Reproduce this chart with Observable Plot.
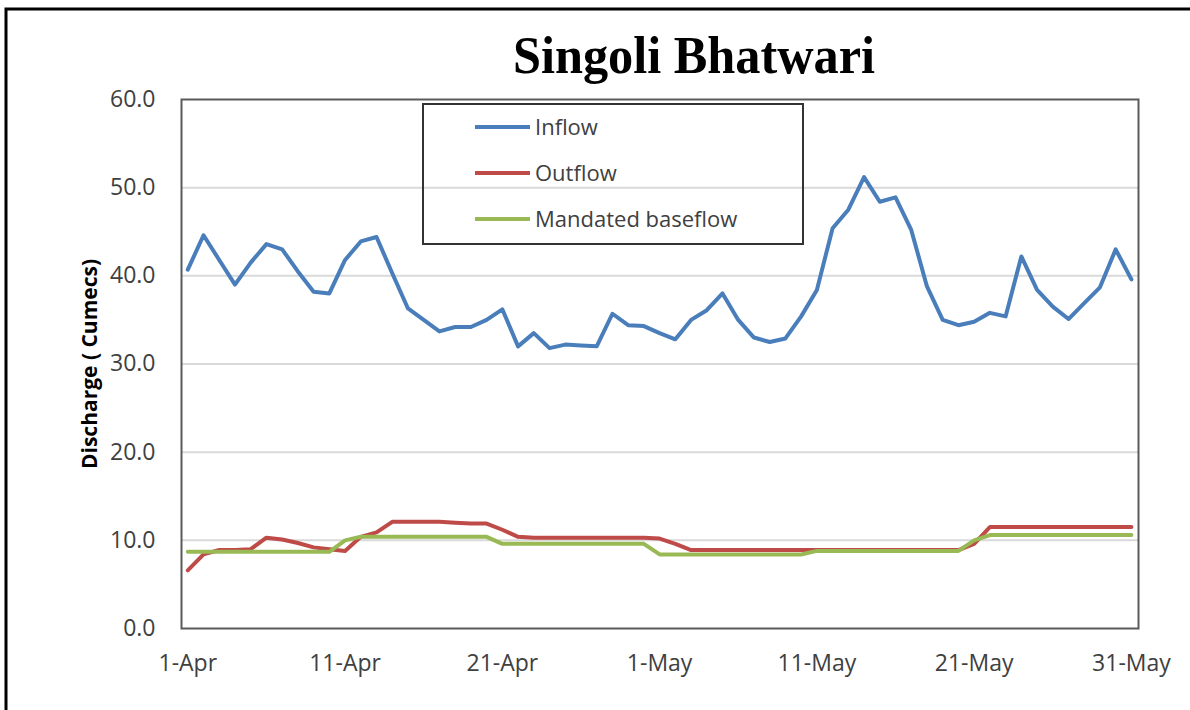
<!DOCTYPE html>
<html><head><meta charset="utf-8">
<script src="https://cdn.jsdelivr.net/npm/d3@7"></script>
<script src="https://cdn.jsdelivr.net/npm/@observablehq/plot@0.6"></script>
<style>
html,body{margin:0;padding:0;overflow:hidden;background:#fff;}
#chart{position:relative;width:1190px;height:710px;}
</style></head><body><div id="chart"></div>
<script>
const title = "Singoli Bhatwari";
const yLabel = "Discharge ( Cumecs)";
const seriesNames = ["Inflow", "Outflow", "Mandated baseflow"];
const seriesColors = ["#4A7EBB", "#BE4B48", "#98B954"];
const startDate = "2014-04-01";
const endDate = "2014-05-31";
const inflow = [40.7, 44.6, 41.8, 39.0, 41.5, 43.6, 43.0, 40.5, 38.2, 38.0,
  41.8, 43.9, 44.4, 40.3, 36.3, 35.0, 33.7, 34.2, 34.2, 35.0,
  36.2, 32.0, 33.5, 31.8, 32.2, 32.1, 32.0, 35.7, 34.4, 34.3,
  33.5, 32.8, 35.0, 36.1, 38.0, 35.0, 33.0, 32.5, 32.9, 35.4,
  38.4, 45.4, 47.5, 51.2, 48.4, 48.9, 45.2, 38.8, 35.0, 34.4,
  34.8, 35.8, 35.4, 42.2, 38.4, 36.5, 35.1, 36.9, 38.7, 43.0, 39.6];
const outflow = [6.6, 8.4, 8.9, 8.9, 9.0, 10.3, 10.1, 9.7, 9.2, 9.0,
  8.8, 10.4, 10.9, 12.1, 12.1, 12.1, 12.1, 12.0, 11.9, 11.9,
  11.2, 10.4, 10.3, 10.3, 10.3, 10.3, 10.3, 10.3, 10.3, 10.3,
  10.2, 9.6, 8.9, 8.9, 8.9, 8.9, 8.9, 8.9, 8.9, 8.9,
  8.9, 8.9, 8.9, 8.9, 8.9, 8.9, 8.9, 8.9, 8.9, 8.9,
  9.6, 11.5, 11.5, 11.5, 11.5, 11.5, 11.5, 11.5, 11.5, 11.5, 11.5];
const baseflow = [8.7, 8.7, 8.7, 8.7, 8.7, 8.7, 8.7, 8.7, 8.7, 8.7,
  10.0, 10.4, 10.4, 10.4, 10.4, 10.4, 10.4, 10.4, 10.4, 10.4,
  9.6, 9.6, 9.6, 9.6, 9.6, 9.6, 9.6, 9.6, 9.6, 9.6,
  8.4, 8.4, 8.4, 8.4, 8.4, 8.4, 8.4, 8.4, 8.4, 8.4,
  8.8, 8.8, 8.8, 8.8, 8.8, 8.8, 8.8, 8.8, 8.8, 8.8,
  10.0, 10.6, 10.6, 10.6, 10.6, 10.6, 10.6, 10.6, 10.6, 10.6, 10.6];
const yTicks = [0, 10, 20, 30, 40, 50, 60];
const xTickLabels = ["1-Apr", "11-Apr", "21-Apr", "1-May", "11-May", "21-May", "31-May"];

const days = d3.utcDay.range(new Date(startDate), d3.utcDay.offset(new Date(endDate), 1));
const rows = [];
[inflow, outflow, baseflow].forEach((vals, k) =>
  vals.forEach((v, i) => rows.push({date: days[i], value: v, series: seriesNames[k]})));
const parseTick = d3.utcParse("%d-%b-%Y");
const tickDates = xTickLabels.map(s => parseTick(s + "-2014"));
const DAY = 864e5;
const xDomain = [new Date(+days[0] - 0.4 * DAY), new Date(+days[days.length - 1] + 0.45 * DAY)];

const plot = Plot.plot({
  width: 1190, height: 710,
  marginLeft: 181, marginRight: 52, marginTop: 99, marginBottom: 82,
  style: {fontFamily: "'Open Sans', sans-serif", fontSize: "23px", color: "#404040", background: "#fff"},
  x: {type: "utc", domain: xDomain},
  y: {domain: [0, 60]},
  color: {domain: seriesNames, range: seriesColors},
  marks: [
    Plot.ruleY(yTicks.filter(t => t > 0 && t < 60), {stroke: "#d9d9d9", strokeWidth: 2}),
    Plot.frame({stroke: "#5a5a5a", strokeWidth: 2}),
    Plot.axisY(yTicks, {tickSize: 0, tickPadding: 26, tickFormat: d => d.toFixed(1), label: null}),
    Plot.axisX(tickDates, {tickSize: 0, tickPadding: 26, tickFormat: d3.utcFormat("%-d-%b"), label: null}),
    Plot.lineY(rows, {x: "date", y: "value", stroke: "series", z: "series", strokeWidth: 4}),
    Plot.text([yLabel], {frameAnchor: "left", dx: -91, rotate: -90, textAnchor: "middle", fontWeight: "bold", fontSize: 21, fill: "#000"})
  ]
});
document.getElementById("chart").appendChild(plot);

const svg = d3.select(plot);
svg.append("path").attr("d", "M6,730V9H1210").attr("fill", "none").attr("stroke", "#000").attr("stroke-width", 3);
svg.append("text").attr("x", 694).attr("y", 73).attr("text-anchor", "middle")
  .attr("font-family", "'Liberation Serif', serif").attr("font-weight", "bold").attr("font-size", 52)
  .attr("textLength", 362).attr("lengthAdjust", "spacingAndGlyphs").attr("fill", "#000").text(title);
const lg = svg.append("g");
lg.append("rect").attr("x", 423).attr("y", 104).attr("width", 380).attr("height", 140)
  .attr("fill", "none").attr("stroke", "#333").attr("stroke-width", 2);
seriesNames.forEach((name, i) => {
  const cy = 127 + 46 * i;
  lg.append("line").attr("x1", 475).attr("x2", 530).attr("y1", cy).attr("y2", cy)
    .attr("stroke", seriesColors[i]).attr("stroke-width", 4);
  lg.append("text").attr("x", 535).attr("y", cy).attr("dy", "0.35em").attr("text-anchor", "start")
    .attr("font-family", "'Open Sans', sans-serif").attr("font-size", 22).attr("fill", "#404040").text(name);
});
</script></body></html>
